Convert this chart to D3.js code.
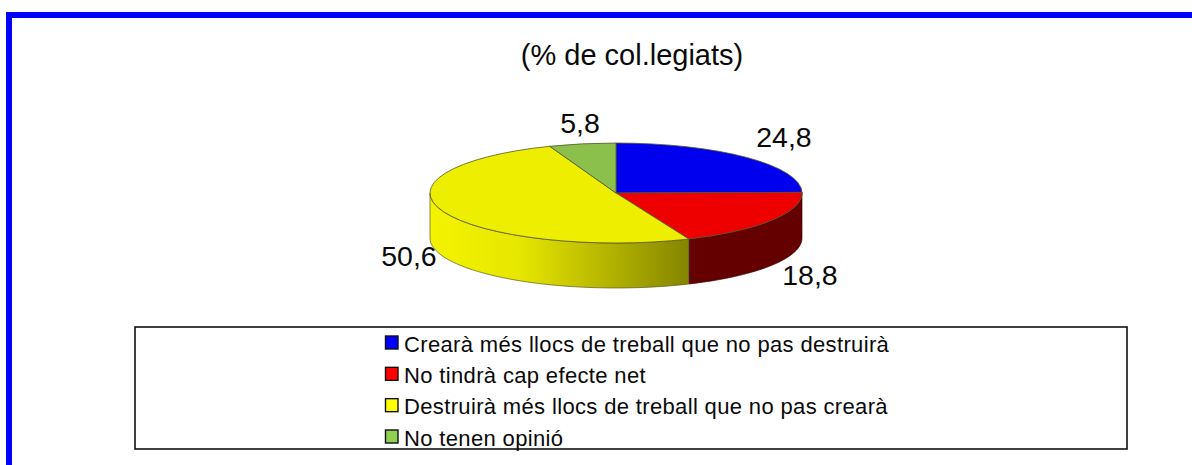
<!DOCTYPE html>
<html>
<head>
<meta charset="utf-8">
<script src="https://cdn.jsdelivr.net/npm/d3@7"></script>
<style>
  html, body { margin: 0; padding: 0; background: #fff; }
  svg { display: block; }
  text { font-family: "Liberation Sans", Arial, sans-serif; fill: #0a0a0a; }
</style>
</head>
<body>
<div id="chart"></div>
<script>
const categories = [
  "Crearà més llocs de treball que no pas destruirà",
  "No tindrà cap efecte net",
  "Destruirà més llocs de treball que no pas crearà",
  "No tenen opinió"
];
const values = [24.8, 18.8, 50.6, 5.8];
const valueLabels = ["24,8", "18,8", "50,6", "5,8"];
const topColors = ["#0000ee", "#ee0000", "#eeee00", "#8cc04c"];
const legendColors = ["#0000ff", "#ff0000", "#ffff00", "#92d050"];
const titleText = "(% de col.legiats)";

const width = 1192, height = 465;
const cx = 616, cy = 193, rx = 186, ry = 50, depth = 45;

const svg = d3.select("#chart").append("svg")
    .attr("width", width)
    .attr("height", height);

// blue frame, only top and left are visible
svg.append("path")
    .attr("d", `M9,${height} V15 H${width}`)
    .attr("fill", "none")
    .attr("stroke", "#0000ff")
    .attr("stroke-width", 6);

svg.append("text")
    .attr("x", 632)
    .attr("y", 65)
    .attr("text-anchor", "middle")
    .style("font-size", "29px")
    .text(titleText);

const pie = d3.pie().sort(null);
const arcs = pie(values);

// point on the ellipse, angle measured clockwise from the top
const ellipseX = a => cx + rx * Math.sin(a);
const ellipseY = a => cy - ry * Math.cos(a);

const defs = svg.append("defs");
const grad = defs.append("linearGradient")
    .attr("id", "yellowSide")
    .attr("gradientUnits", "userSpaceOnUse")
    .attr("x1", cx - rx).attr("x2", ellipseX(arcs[2].startAngle))
    .attr("y1", 0).attr("y2", 0);
grad.append("stop").attr("offset", "0").attr("stop-color", "#f4f400");
grad.append("stop").attr("offset", "0.35").attr("stop-color", "#e6e600");
grad.append("stop").attr("offset", "1").attr("stop-color", "#858500");

// front wall for the part of a slice between two angles
function wallPath(a0, a1) {
    const steps = d3.range(0, 41).map(i => a0 + (a1 - a0) * i / 40);
    const top = steps.map(a => [ellipseX(a), ellipseY(a)]);
    const bottom = steps.slice().reverse().map(a => [ellipseX(a), ellipseY(a) + depth]);
    return d3.line()(top.concat(bottom)) + "Z";
}

const wallEdge = "#5a5a20";
svg.append("path")
    .attr("d", wallPath(arcs[1].startAngle, arcs[1].endAngle))
    .attr("fill", "#650000")
    .attr("stroke", "#3a0000")
    .attr("stroke-width", 0.7);
svg.append("path")
    .attr("d", wallPath(arcs[2].startAngle, 1.5 * Math.PI))
    .attr("fill", "url(#yellowSide)")
    .attr("stroke", wallEdge)
    .attr("stroke-width", 0.7);

// top face: a circular d3 arc squashed into an ellipse
const arc = d3.arc().innerRadius(0).outerRadius(rx);
svg.append("g")
    .attr("transform", `translate(${cx},${cy}) scale(1,${ry / rx})`)
    .selectAll("path")
    .data(arcs)
    .join("path")
    .attr("d", arc)
    .attr("fill", (d, i) => topColors[i])
    .attr("stroke", "#55552a")
    .attr("stroke-width", 0.8)
    .attr("vector-effect", "non-scaling-stroke");

// value labels sit around the pie
const labelPos = [[784, 147], [810, 285], [409, 266], [580, 133]];
svg.selectAll(".value-label")
    .data(valueLabels)
    .join("text")
    .attr("class", "value-label")
    .attr("x", (d, i) => labelPos[i][0])
    .attr("y", (d, i) => labelPos[i][1])
    .attr("text-anchor", "middle")
    .style("font-size", "28.5px")
    .text(d => d);

// legend
svg.append("rect")
    .attr("x", 135).attr("y", 327)
    .attr("width", 992).attr("height", 122)
    .attr("fill", "#fff")
    .attr("stroke", "#111")
    .attr("stroke-width", 1.6);

const legendY = d3.scalePoint()
    .domain(categories)
    .range([343, 437]);

const legendRows = svg.selectAll(".legend-row")
    .data(categories)
    .join("g")
    .attr("class", "legend-row")
    .attr("transform", d => `translate(385.5,${legendY(d)})`);

legendRows.append("rect")
    .attr("x", 0).attr("y", -7)
    .attr("width", 12.5).attr("height", 13)
    .attr("fill", (d, i) => legendColors[i])
    .attr("stroke", "#111")
    .attr("stroke-width", 1.4);

legendRows.append("text")
    .attr("x", 18.5)
    .attr("y", 8.5)
    .style("font-size", "22px")
    .style("letter-spacing", "0.35px")
    .text(d => d);
</script>
</body>
</html>
